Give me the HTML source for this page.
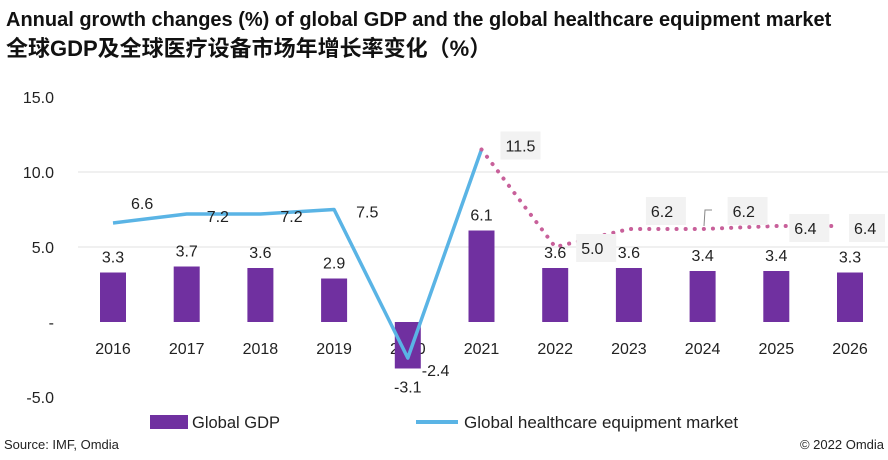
<!DOCTYPE html>
<html><head><meta charset="utf-8"><style>
body{margin:0;background:#fff;}
svg text{font-family:"Liberation Sans","Noto Sans CJK SC",sans-serif;}
</style></head><body>
<svg width="888" height="455" viewBox="0 0 888 455" xmlns="http://www.w3.org/2000/svg" id="chart">
<text x="6" y="26" font-size="20" font-weight="bold" fill="#111">Annual growth changes (%) of global GDP and the global healthcare equipment market</text>
<text x="6" y="56" font-size="22" font-weight="bold" fill="#111">全球GDP及全球医疗设备市场年增长率变化（%）</text>
<g id="grid"></g><g id="bars"></g><g id="lines"></g><g id="labels"></g>
<g>
<rect x="150" y="415" width="38" height="14" fill="#7030a0"/>
<text x="192" y="428" font-size="16.5" fill="#222">Global GDP</text>
<line x1="416" y1="422" x2="458" y2="422" stroke="#5ab4e5" stroke-width="4"/>
<text x="464" y="428" font-size="17" fill="#222">Global healthcare equipment market</text>
</g>
<text x="4" y="449" font-size="13" fill="#222">Source: IMF, Omdia</text>
<text x="884" y="449" font-size="13" fill="#222" text-anchor="end">© 2022 Omdia</text>
<polyline points="712,210 705,210 704,226" fill="none" stroke="#888" stroke-width="1"/>
</svg>
<script>
const years=["2016","2017","2018","2019","2020","2021","2022","2023","2024","2025","2026"];
const gdp=[3.3,3.7,3.6,2.9,-3.1,6.1,3.6,3.6,3.4,3.4,3.3];
const market=[6.6,7.2,7.2,7.5,-2.4,11.5,5.0,6.2,6.2,6.4,6.4];
const yTicks=[15,10,5,0,-5];
const yTickLabels=["15.0","10.0","5.0","-","-5.0"];
const forecastStart=5;
const NS="http://www.w3.org/2000/svg";
const xS=i=>113+i*73.7;
const yS=v=>322-v*15;
function mk(t,a,p){const e=document.createElementNS(NS,t);for(const k in a)e.setAttribute(k,a[k]);document.getElementById(p).appendChild(e);return e;}
yTicks.forEach((v,i)=>{
 if(v===5||v===10){const g=mk('line',{x1:78,x2:888,y1:yS(v),y2:yS(v),stroke:'#e0e0e0','stroke-width':1},'grid');
 
 }
 const t=mk('text',{x:54,y:yS(v)+6,'font-size':16,fill:'#222','text-anchor':'end'},'grid');t.textContent=yTickLabels[i];
 
 
});
years.forEach((y,i)=>{
 const t=mk('text',{x:xS(i),y:354,'font-size':16,fill:'#222','text-anchor':'middle'},'grid');t.textContent=y;
 
 
 const v=gdp[i];const b=mk('rect',{x:xS(i)-13,width:26,y:Math.min(yS(v),yS(0)),height:Math.abs(yS(v)-yS(0)),fill:'#7030a0'},'bars');
 
 
 const l=mk('text',{x:xS(i),y:v>=0?yS(v)-10:yS(v)+24,'font-size':16,fill:'#222','text-anchor':'middle'},'labels');l.textContent=v.toFixed(1);
 
 
});
let p1=[],p2=[];
market.forEach((v,i)=>{if(i<=forecastStart)p1.push(xS(i)+','+yS(v));if(i>=forecastStart)p2.push((i===market.length-1?xS(i)-10:xS(i))+','+yS(v));});
const s=mk('polyline',{points:p1.join(' '),fill:'none',stroke:'#5ab4e5','stroke-width':3.5,'stroke-linejoin':'round'},'lines');


const d=mk('polyline',{points:p2.join(' '),fill:'none',stroke:'#c8609a','stroke-width':4,'stroke-dasharray':'0.1 9','stroke-linecap':'round'},'lines');


const off=[[18,-20],[20,2],[20,2],[22,2],[14,12],[24,-4],[26,1],[22,-18],[30,-18],[18,2],[4,2]];
market.forEach((v,i)=>{
 const x=xS(i)+off[i][0],y=yS(v)+off[i][1];
 if(i>=forecastStart){const r=mk('rect',{x:x-5,y:y-14,width:i===market.length-1?36:40,height:28,fill:'#f2f2f2'},'labels');
 
 }
 const t=mk('text',{x:x,y:y+6,'font-size':16,fill:'#222'},'labels');t.textContent=v.toFixed(1);
 
 
});
</script>
</body></html>
